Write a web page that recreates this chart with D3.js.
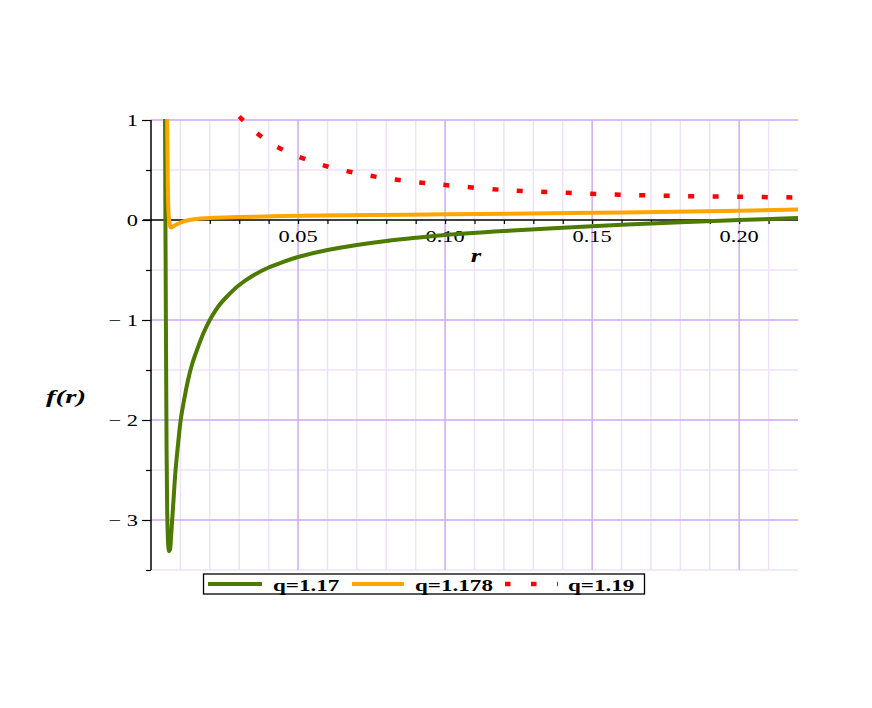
<!DOCTYPE html>
<html>
<head>
<meta charset="utf-8">
<script src="https://cdn.jsdelivr.net/npm/d3@7"></script>
<style>
  html, body { margin: 0; padding: 0; background: #fff; }
  svg { display: block; }
  text { font-family: "Liberation Serif", "Times New Roman", serif; fill: #000; }
</style>
</head>
<body>
<script>
// ---- data ----
const seriesNames = ["q=1.17", "q=1.178", "q=1.19"];
const seriesColors = ["#4d7a00", "#ffa500", "#ff0000"];

const greenX = [0.0047, 0.0049, 0.0051, 0.0053, 0.0055, 0.0058, 0.0061, 0.0064, 0.0068, 0.0072, 0.0077, 0.0083, 0.0092, 0.0101, 0.0110, 0.0126, 0.0140, 0.0160, 0.0180, 0.0200, 0.0230, 0.0260, 0.0300, 0.0350, 0.0400, 0.0450, 0.0500, 0.0600, 0.0700, 0.0800, 0.0900, 0.1000, 0.1200, 0.1400, 0.1600, 0.1800, 0.2000, 0.2200];
const greenY = [1.60, 0.00, -1.20, -2.30, -2.90, -3.22, -3.31, -3.30, -3.18, -3.00, -2.78, -2.52, -2.24, -2.00, -1.84, -1.60, -1.44, -1.27, -1.12, -1.00, -0.86, -0.76, -0.65, -0.55, -0.475, -0.418, -0.37, -0.30, -0.25, -0.21, -0.178, -0.15, -0.11, -0.077, -0.047, -0.022, 0.00, 0.02];

const orangeX = [0.0053, 0.0055, 0.0057, 0.0060, 0.0064, 0.0068, 0.0075, 0.0090, 0.0110, 0.0130, 0.0200, 0.0300, 0.0500, 0.0750, 0.1000, 0.1500, 0.2000, 0.2200];
const orangeY = [1.60, 1.00, 0.40, 0.05, -0.05, -0.075, -0.065, -0.04, -0.015, 0.00, 0.02, 0.03, 0.042, 0.05, 0.057, 0.072, 0.093, 0.105];

const redX = [0.0300, 0.0350, 0.0400, 0.0450, 0.0500, 0.0600, 0.0700, 0.0800, 0.0900, 0.1000, 0.1200, 0.1400, 0.1600, 0.1800, 0.2000, 0.2200];
const redY = [1.035, 0.895, 0.78, 0.70, 0.635, 0.535, 0.468, 0.416, 0.38, 0.35, 0.30, 0.273, 0.253, 0.24, 0.232, 0.225];

const xTickLabels = ["0.05", "0.10", "0.15", "0.20"];
const xTickLabelValues = [0.05, 0.10, 0.15, 0.20];
const yTickLabels = ["1", "0", "\u2212 1", "\u2212 2", "\u2212 3"];
const yTickLabelValues = [1, 0, -1, -2, -3];

// ---- layout ----
const W = 872, H = 708;
const x = d3.scaleLinear().domain([0, 0.22]).range([151, 798]);
const y = d3.scaleLinear().domain([-3.5, 1]).range([570, 120]);
const SX = 1.4; // horizontal text stretch seen in the reference

const svg = d3.select("body").append("svg").attr("width", W).attr("height", H);

const defs = svg.append("defs");
defs.append("clipPath").attr("id", "plotclip")
  .append("rect").attr("x", x(0)).attr("y", y(1) - 1)
  .attr("width", x(0.22) - x(0)).attr("height", y(-3.5) - y(1) + 2);
defs.append("clipPath").attr("id", "plotclip2")
  .append("rect").attr("x", x(0)).attr("y", y(1) - 6)
  .attr("width", x(0.22) - x(0)).attr("height", y(-3.5) - y(1) + 7);

// ---- grid ----
const grid = svg.append("g");
const minorX = d3.range(1, 22).map(i => i / 100).filter(v => Math.round(v * 100) % 5 !== 0);
const majorX = [0.05, 0.10, 0.15, 0.20];
const minorY = [-3.5, -2.5, -1.5, -0.5, 0.5];
const majorY = [-3, -2, -1, 1];

grid.selectAll(".mx").data(minorX).enter().append("line")
  .attr("x1", d => x(d)).attr("x2", d => x(d)).attr("y1", y(1)).attr("y2", y(-3.5))
  .attr("stroke", "#eee2fb").attr("stroke-width", 1.5);
grid.selectAll(".my").data(minorY).enter().append("line")
  .attr("x1", x(0)).attr("x2", x(0.22)).attr("y1", d => y(d)).attr("y2", d => y(d))
  .attr("stroke", "#eee2fb").attr("stroke-width", 1.5);
grid.selectAll(".Mx").data(majorX).enter().append("line")
  .attr("x1", d => x(d)).attr("x2", d => x(d)).attr("y1", y(1)).attr("y2", y(-3.5))
  .attr("stroke", "#cfa9f7").attr("stroke-width", 1.5);
grid.selectAll(".My").data(majorY).enter().append("line")
  .attr("x1", x(0)).attr("x2", x(0.22)).attr("y1", d => y(d)).attr("y2", d => y(d))
  .attr("stroke", "#cfa9f7").attr("stroke-width", 1.5);

// ---- axes ----
const xAxis = d3.axisBottom(x)
  .tickValues(d3.range(1, 22).map(i => i / 100))
  .tickSize(4).tickSizeOuter(0).tickFormat("");
const gx = svg.append("g").attr("transform", `translate(0,${y(0)})`).call(xAxis);
gx.select(".domain").attr("d", `M${x(0) - 8},0H${x(0.22)}`).attr("stroke", "#000").attr("stroke-width", 1.5);
gx.selectAll(".tick line").attr("stroke", "#000").attr("stroke-width", 1.2);

const yAxis = d3.axisLeft(y)
  .tickValues(d3.range(-7, 3).map(i => i / 2))
  .tickSize(9).tickSizeOuter(0).tickFormat("");
const gy = svg.append("g").attr("transform", `translate(${x(0)},0)`).call(yAxis);
gy.select(".domain").attr("d", `M0,${y(1)}V${y(-3.5)}`).attr("stroke", "#000").attr("stroke-width", 1.5);
gy.selectAll(".tick line")
  .attr("x2", d => Number.isInteger(d) ? -9 : -5)
  .attr("stroke", "#000").attr("stroke-width", 1.2);

// tick labels (stretched horizontally, like the reference)
svg.selectAll(".xl").data(xTickLabelValues).enter().append("text")
  .attr("transform", d => `translate(${x(d)},${y(0) + 22}) scale(${SX},1)`)
  .attr("text-anchor", "middle").attr("font-size", 16)
  .text((d, i) => xTickLabels[i]);
svg.selectAll(".yl").data(yTickLabelValues).enter().append("text")
  .attr("transform", d => `translate(${x(0) - 13},${y(d) + 5.5}) scale(${SX},1)`)
  .attr("text-anchor", "end").attr("font-size", 16)
  .text((d, i) => yTickLabels[i]);

// axis titles
svg.append("text").attr("transform", `translate(476,262) scale(1.5,1)`)
  .attr("text-anchor", "middle").attr("font-size", 18)
  .attr("font-weight", "bold").attr("font-style", "italic").text("r");
svg.append("text").attr("transform", `translate(66,403) scale(1.6,1)`)
  .attr("text-anchor", "middle").attr("font-size", 18)
  .attr("font-weight", "bold").attr("font-style", "italic").text("f(r)");

// ---- curves ----
const lineMono = d3.line().x(d => x(d[0])).y(d => y(d[1])).curve(d3.curveMonotoneX);
const lineSmooth = d3.line().x(d => x(d[0])).y(d => y(d[1])).curve(d3.curveCatmullRom.alpha(0.5));
const series = [
  { pts: d3.zip(greenX, greenY), color: seriesColors[0], dash: null, gen: lineSmooth },
  { pts: d3.zip(orangeX, orangeY), color: seriesColors[1], dash: null, gen: lineMono },
  { pts: d3.zip(redX, redY), color: seriesColors[2], dash: "6 18.5", gen: lineSmooth }
];
series.forEach(s => {
  svg.append("path").datum(s.pts)
    .attr("clip-path", s.dash ? "url(#plotclip2)" : "url(#plotclip)")
    .attr("d", s.gen)
    .attr("fill", "none")
    .attr("stroke", s.color)
    .attr("stroke-width", s.dash ? 4.5 : 4)
    .attr("stroke-linejoin", "round")
    .attr("stroke-dasharray", s.dash);
});

// ---- legend ----
const lg = svg.append("g");
lg.append("rect").attr("x", 203.5).attr("y", 574).attr("width", 441).attr("height", 20)
  .attr("fill", "#fff").attr("stroke", "#000").attr("stroke-width", 1.3);
const legendItems = [
  { x1: 208, x2: 262, tx: 273 },
  { x1: 352, x2: 404, tx: 415 },
  { x1: 505, x2: 558, tx: 568 }
];
legendItems.forEach((it, i) => {
  lg.append("line").attr("x1", it.x1).attr("x2", it.x2).attr("y1", 584).attr("y2", 584)
    .attr("stroke", seriesColors[i]).attr("stroke-width", i === 2 ? 4.5 : 4)
    .attr("stroke-dasharray", i === 2 ? "5.5 20.5" : null);
  lg.append("text").attr("transform", `translate(${it.tx},590.5) scale(${SX},1)`)
    .attr("font-size", 16.5).attr("font-weight", "bold").text(seriesNames[i]);
});
</script>
</body>
</html>
